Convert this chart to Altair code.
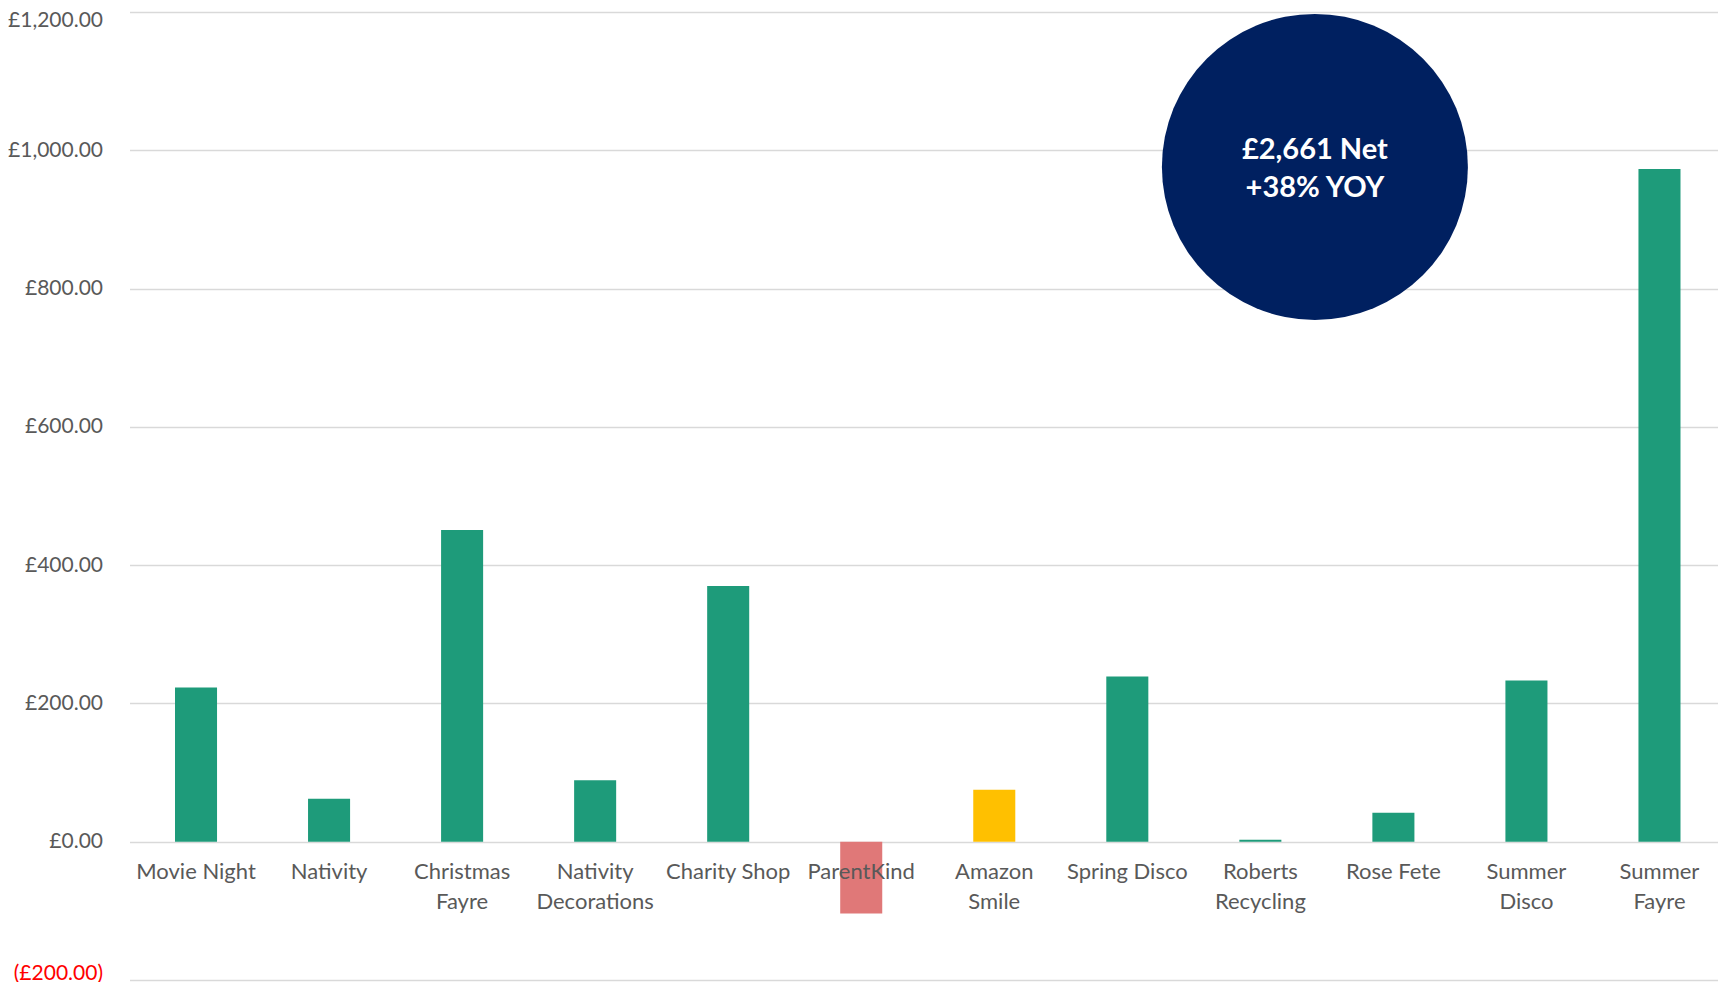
import altair as alt
import pandas as pd

categories = ["Movie Night", "Nativity", "Christmas Fayre", "Nativity Decorations",
              "Charity Shop", "ParentKind", "Amazon Smile", "Spring Disco",
              "Roberts Recycling", "Rose Fete", "Summer Disco", "Summer Fayre"]
values = [223, 62, 451, 89, 370, -104, 75, 239, 3, 42, 233, 973]
kinds = ["event", "event", "event", "event", "event", "negative", "online",
         "event", "event", "event", "event", "event"]

kind_domain = ["event", "negative", "online"]
kind_colors = ["#1E9B7A", "#E07878", "#FFC000"]

y_ticks = [-200, 0, 200, 400, 600, 800, 1000, 1200]

ann_category = "Roberts Recycling"
ann_lines = ["£2,661 Net", "+38% YOY"]
ann_line_values = [1000, 945]
ann_circle_value = 976

two_line = ["Christmas Fayre", "Nativity Decorations", "Amazon Smile",
            "Roberts Recycling", "Summer Disco", "Summer Fayre"]

df = pd.DataFrame({"cat": categories, "value": values, "kind": kinds})
ann_circle = pd.DataFrame({"cat": [ann_category], "value": [ann_circle_value]})
ann_text = pd.DataFrame({"cat": [ann_category] * 2, "value": ann_line_values, "text": ann_lines})

two_line_js = "[" + ",".join("'" + s + "'" for s in two_line) + "]"

PLOT_H = 968
X_RANGE = 1596.5
y_min, y_max = -200, 1200
zero_offset = -PLOT_H * (0 - y_min) / (y_max - y_min)

x_scale = alt.Scale(domain=categories, paddingInner=0, paddingOuter=0, range=[0, X_RANGE])
y_scale = alt.Scale(domain=[y_min, y_max], nice=False)

x_axis = alt.Axis(
    title=None, domain=False, ticks=False, tickSize=0, labelAngle=0, grid=False,
    labelFont="Lato", labelFontSize=22, labelColor="#595959",
    labelPadding=20, labelLineHeight=30, zindex=1, offset=zero_offset,
    labelExpr=f"indexof({two_line_js}, datum.label) >= 0 ? split(datum.label, ' ') : datum.label",
)
y_axis = alt.Axis(
    title=None, domain=False, ticks=False, tickSize=0, values=y_ticks,
    labelFont="Lato", labelFontSize=21,
    labelColor={"condition": {"test": "datum.value < 0", "value": "#FF0000"}, "value": "#595959"},
    labelPadding=27, labelFlush=True, labelFlushOffset=3,
    grid=True, gridColor="#D9D9D9", gridWidth=1.5,
    labelExpr="datum.value < 0 ? '(£' + format(-datum.value, ',.2f') + ')' : '£' + format(datum.value, ',.2f')",
)

bars = alt.Chart(df).mark_bar(width={"band": 0.316}).encode(
    x=alt.X("cat:N", scale=x_scale, axis=x_axis, sort=categories),
    y=alt.Y("value:Q", scale=y_scale, axis=y_axis),
    color=alt.Color("kind:N", scale=alt.Scale(domain=kind_domain, range=kind_colors), legend=None),
)

circle = alt.Chart(ann_circle).mark_point(
    shape="circle", filled=True, size=306 * 306, color="#002060", opacity=1, strokeWidth=0
).encode(
    x=alt.X("cat:N", scale=x_scale, sort=categories, bandPosition=0.91),
    y=alt.Y("value:Q", scale=y_scale),
)

text = alt.Chart(ann_text).mark_text(
    font="Lato", fontSize=29, fontWeight="bold", color="white", align="center", baseline="middle"
).encode(
    x=alt.X("cat:N", scale=x_scale, sort=categories, bandPosition=0.91),
    y=alt.Y("value:Q", scale=y_scale),
    text="text:N",
)

chart = alt.layer(bars, circle, text).properties(
    width=1588.5, height=PLOT_H,
    autosize=alt.AutoSizeParams(type="none"),
    padding={"top": 4, "left": 121.5, "right": 0, "bottom": 10},
    background="white",
).configure_view(stroke="transparent", strokeWidth=0)

chart.save("out.html", embed_options={"renderer": "svg", "actions": False})
